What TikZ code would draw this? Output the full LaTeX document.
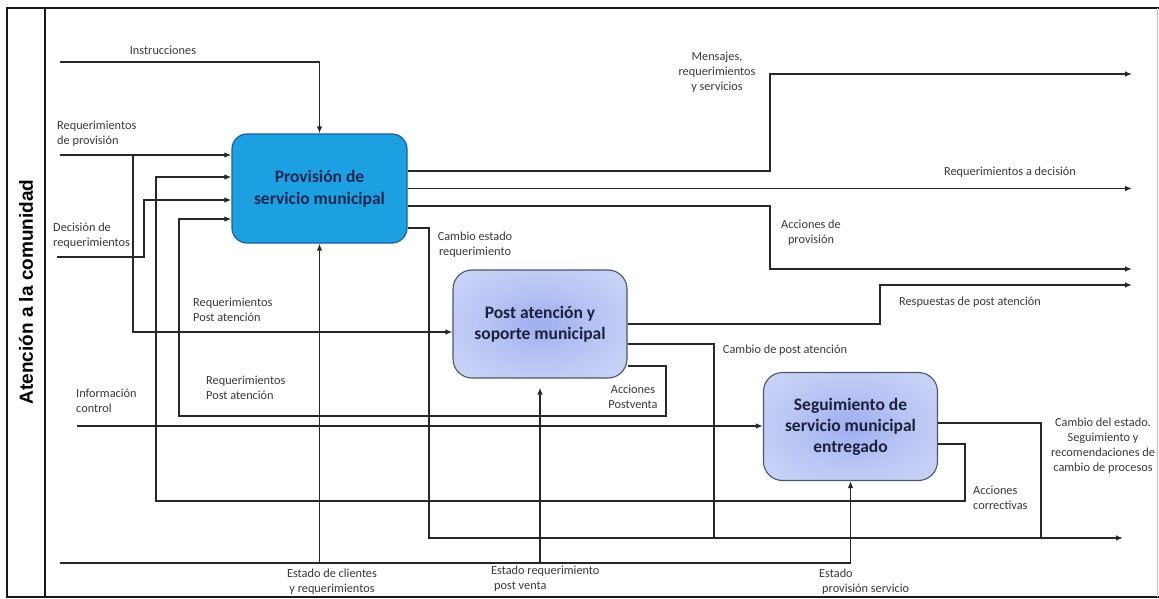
\documentclass[tikz,border=0pt]{standalone}
\usepackage{fontspec}
\setmainfont{Carlito}
\newfontfamily\lanefont{Liberation Sans}
\usetikzlibrary{arrows.meta,calc}

\definecolor{provfill}{RGB}{28,160,226}
\definecolor{provedge}{RGB}{25,95,160}
\definecolor{provtext}{RGB}{20,40,80}
\definecolor{postin}{RGB}{158,174,240}
\definecolor{postmid}{RGB}{186,198,244}
\definecolor{postout}{RGB}{214,222,249}
\definecolor{postedge}{RGB}{75,85,110}
\definecolor{posttext}{RGB}{28,32,58}
\definecolor{wire}{RGB}{40,40,40}

% soft bluish glow used inside the follow-up processes
\pgfdeclareradialshading{postshade}{\pgfpoint{0bp}{0bp}}{%
  color(0bp)=(postin); color(18bp)=(postmid); color(45bp)=(postout); color(80bp)=(postout)}

\begin{document}
\begin{tikzpicture}[x=1pt,y=-1pt,
  line/.style={draw=wire,line width=1.25pt},
  arr/.style={line,-{Latex[length=7pt,width=5.5pt]}},
  frame/.style={draw=black!90,line width=1.5pt},
  lbl/.style={font=\fontsize{12.3}{15}\selectfont,text=black!78,inner sep=0pt,align=center},
  lbll/.style={lbl,align=left},
  procA/.style={rounded corners=15pt,draw=provedge,line width=1.2pt,fill=provfill,
    minimum width=175pt,minimum height=109pt,align=center,inner sep=0pt,
    font=\fontsize{17.5}{22}\selectfont\bfseries,text=provtext},
  procB/.style={rounded corners=19pt,draw=postedge,line width=1.1pt,
    shading=postshade,
    minimum width=174pt,minimum height=108pt,align=center,inner sep=0pt,
    font=\fontsize{17.5}{21}\selectfont\bfseries,text=posttext}]
\useasboundingbox (0,0) rectangle (1159,599);

% swimlane frame
\draw[frame] (1159,8) -- (7,8) -- (7,597) -- (1159,597);
\draw[frame] (45,8) -- (45,597);
\draw[draw=black!25,line width=1pt] (1157,8) -- (1157,597);
\node[rotate=90,inner sep=0pt,font=\lanefont\bfseries\fontsize{19}{19}\selectfont] (lane) at (26,292) {Atención a la comunidad};

% processes
\node[procA] (prov) at (319.5,188.5) {Provisión de\\servicio municipal};
\node[procB] (post) at (540,324) {Post atención y\\soporte municipal};
\node[procB] (seg) at (850.5,426.5) {Seguimiento de\\servicio municipal\\entregado};

% free ends and bends
\coordinate (inIn) at (60,62);
\coordinate (inRP) at (60,155);
\coordinate (jRP) at (133,155);
\coordinate (inDec) at (57,257);
\coordinate (dc1) at (144,200);
\coordinate (ac1) at (965,501);
\coordinate (ac2) at (156,177);
\coordinate (ap1) at (666,416);
\coordinate (ap2) at (179,219);
\coordinate (inCtl) at (77,426);
\coordinate (inSt) at (60,563);
\coordinate (m1) at (770,74);
\coordinate (outMsg) at (1132,74);
\coordinate (a1) at (770,269);
\coordinate (outAcc) at (1132,269);
\coordinate (c1) at (429,538);
\coordinate (outEnd) at (1123,538);
\coordinate (r1) at (880,285);
\coordinate (outResp) at (1132,285);
\coordinate (p1) at (714,538);
\coordinate (s1) at (1041,538);

% inputs
\draw[arr] (inIn) -| (prov.north);
\draw[arr] (inRP) -- (inRP -| prov.west);
\draw[arr] (jRP) |- ([yshift=-8pt]post.west);
\draw[arr] (inDec) -| (dc1) -- (dc1 -| prov.west);
\draw[arr] (inCtl) -- (inCtl -| seg.west);

% feedback loops
\draw[arr] ([yshift=-17.5pt]seg.east) -| (ac1) -| (ac2) -- (ac2 -| prov.west);
\draw[arr] ([yshift=-42pt]post.east) -| (ap1) -| (ap2) -- (ap2 -| prov.west);

% mechanisms from below
\draw[arr] (inSt) -| (seg.south);
\draw[arr] (prov.south |- inSt) -- (prov.south);
\draw[arr] (post.south |- inSt) -- ([yshift=-9pt]post.south);

% outputs
\draw[arr] ([yshift=17.5pt]prov.east) -| (m1) -- (outMsg);
\draw[arr] (prov.east) -- (prov.east -| outMsg);
\draw[arr] ([yshift=-17.5pt]prov.east) -| (a1) -- (outAcc);
\draw[arr] ([yshift=-39.5pt]prov.east) -| (c1) -- (outEnd);
\draw[arr] (post.east) -| (r1) -- (outResp);
\draw[line] ([yshift=-20pt]post.east) -| (p1);
\draw[line] ([yshift=3.5pt]seg.east) -| (s1);

% labels
\node[lbl] (lInstr) at (163,50) {Instrucciones};
\node[lbll,anchor=west] (lReqProv) at (57,134) {Requerimientos\\de provisión};
\node[lbll,anchor=west] (lDec) at (53,235.5) {Decisión de\\requerimientos};
\node[lbll,anchor=west] (lRP1) at (193,310) {Requerimientos\\Post atención};
\node[lbll,anchor=west] (lRP2) at (206,388) {Requerimientos\\Post atención};
\node[lbll,anchor=west] (lInfo) at (76,400.5) {Información\\control};
\node[lbl] (lStC) at (332,581.5) {Estado de clientes\\y requerimientos};
\node[lbll,anchor=west] (lStP) at (491,578.5) {Estado requerimiento\\\hspace*{3pt}post venta};
\node[lbll,anchor=west] (lStS) at (819,581.5) {Estado\\\hspace*{3pt}provisión servicio};
\node[lbl] (lMsg) at (717,72) {Mensajes,\\requerimientos\\y servicios};
\node[lbl] (lRD) at (1010,172) {Requerimientos a decisión};
\node[lbl] (lAP) at (811,232.5) {Acciones de\\provisión};
\node[lbl] (lCE) at (475,244.5) {Cambio estado\\requerimiento};
\node[lbl] (lResp) at (970,302) {Respuestas de post atención};
\node[lbl] (lCPA) at (785,350) {Cambio de post atención};
\node[lbl] (lAPV) at (633,397) {Acciones\\Postventa};
\node[lbll,anchor=west] (lAC) at (973,498) {Acciones\\correctivas};
\node[lbl] (lCS) at (1103,446) {Cambio del estado.\\Seguimiento y\\recomendaciones de\\cambio de procesos};
\end{tikzpicture}
\end{document}
